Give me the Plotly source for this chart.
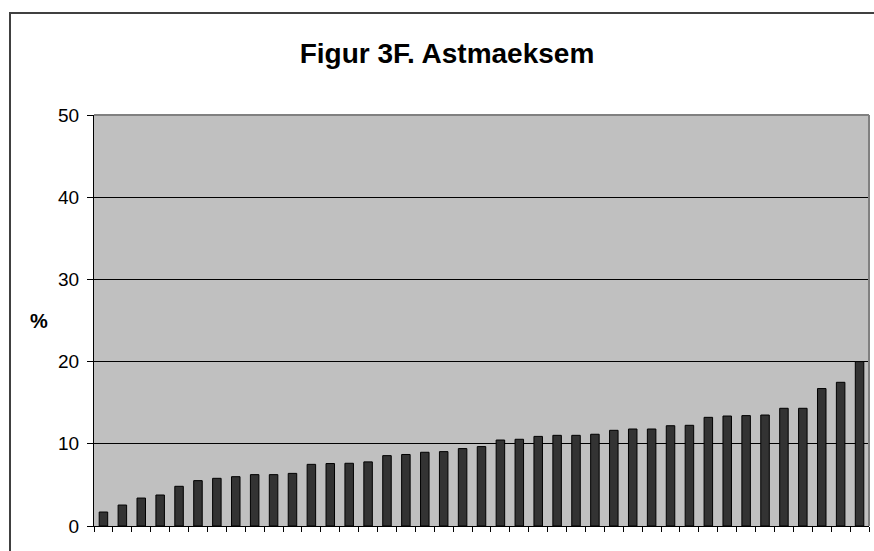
import plotly.graph_objects as go

# Share (%) per unit, sorted ascending
categories = [str(i) for i in range(1, 42)]
values = [1.7, 2.55, 3.4, 3.77, 4.83, 5.52, 5.8, 6.0, 6.25, 6.25, 6.4,
          7.5, 7.6, 7.63, 7.8, 8.56, 8.7, 8.97, 9.05, 9.42, 9.66,
          10.46, 10.55, 10.9, 11.03, 11.03, 11.16, 11.64, 11.8, 11.8,
          12.2, 12.25, 13.22, 13.38, 13.43, 13.5, 14.32, 14.32,
          16.72, 17.48, 20.0]
y_ticks = [0, 10, 20, 30, 40, 50]
title_text = "Figur 3F. Astmaeksem"
y_label = "%"

W, H = 874, 551
ML, MR, MT, MB = 94, 5, 115, 25
pw = W - ML - MR
ph = H - MT - MB

def px_x(px):
    return (px - ML) / pw

def px_y(py):
    return (H - MB - py) / ph

FONT = "Arial, Liberation Sans, sans-serif"

fig = go.Figure(go.Bar(
    x=categories, y=values,
    marker=dict(color="#333333", line=dict(color="#000000", width=1)),
    hoverinfo="x+y",
))

fig.update_layout(
    width=W, height=H,
    margin=dict(l=ML, r=MR, t=MT, b=MB),
    paper_bgcolor="white",
    plot_bgcolor="#C0C0C0",
    bargap=0.55,
    showlegend=False,
    font=dict(family=FONT, color="black"),
    title=dict(
        text="<b>" + title_text + "</b>",
        x=447 / W, xanchor="center",
        y=1 - 53 / H, yanchor="middle",
        xref="container", yref="container",
        font=dict(size=28, family=FONT, color="black"),
    ),
)

fig.update_xaxes(
    type="category",
    showticklabels=False,
    ticks="outside", tickson="boundaries", ticklen=5,
    tickcolor="black", tickwidth=1,
    showline=True, linecolor="black", linewidth=1,
    showgrid=False, zeroline=False,
)

fig.update_yaxes(
    range=[0, 50],
    tickvals=y_ticks,
    ticktext=[str(v) for v in y_ticks],
    tickfont=dict(size=19, family=FONT, color="black"),
    ticks="outside", ticklen=6, tickcolor="black", tickwidth=1,
    ticklabelstandoff=4,
    showline=True, linecolor="black", linewidth=1,
    showgrid=True, gridcolor="black", gridwidth=1,
    zeroline=False,
)

# Horizontal "%" axis label
fig.add_annotation(
    text="<b>" + y_label + "</b>",
    xref="paper", yref="paper",
    x=px_x(39), y=0.5, xanchor="center", yanchor="middle",
    showarrow=False, font=dict(size=20, family=FONT, color="black"),
)

# Gray plot-area frame on top and right
fig.add_shape(type="line", xref="paper", yref="paper",
              x0=0, x1=1, y0=1, y1=1,
              line=dict(color="#808080", width=2), layer="above")
fig.add_shape(type="line", xref="paper", yref="paper",
              x0=1, x1=1, y0=0, y1=1,
              line=dict(color="#808080", width=2), layer="above")

# Chart-area border
fig.add_shape(type="rect", xref="paper", yref="paper",
              x0=px_x(10), x1=px_x(W + 20), y0=px_y(H + 20), y1=px_y(13),
              line=dict(color="#404040", width=2), fillcolor="rgba(0,0,0,0)",
              layer="above")

fig.write_html("out.html")
